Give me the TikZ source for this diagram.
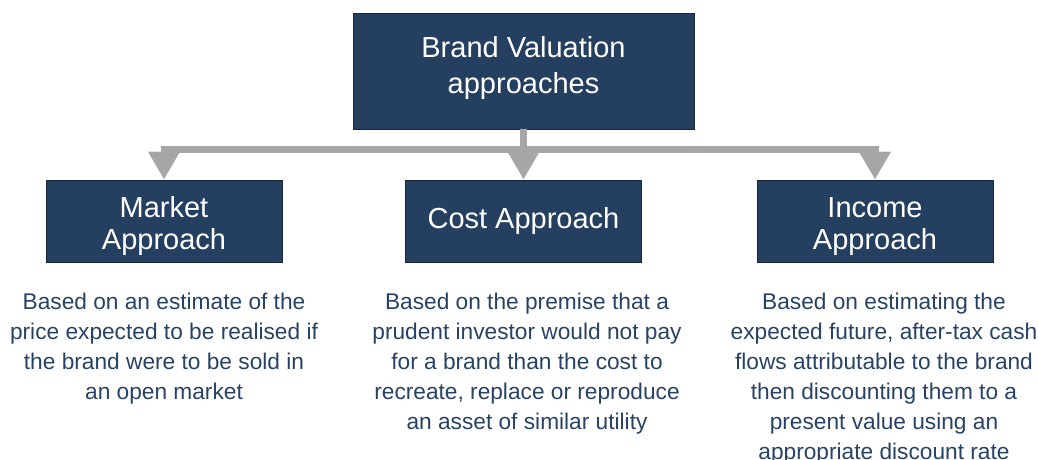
\documentclass[tikz,border=0pt]{standalone}
\usepackage{fontspec}
\setmainfont{Liberation Sans}
\usepackage{xcolor}
\usetikzlibrary{positioning, arrows.meta}
\definecolor{boxblue}{RGB}{37,63,96}
\definecolor{boxline}{RGB}{22,38,60}
\definecolor{descblue}{RGB}{40,66,100}
\definecolor{arrowgray}{RGB}{166,166,166}

\begin{document}
\begin{tikzpicture}[x=1pt, y=-1pt,
  approach/.style={draw=boxline, fill=boxblue, text=white, line width=0.8pt,
    minimum width=236pt, minimum height=82pt, align=center,
    font=\fontsize{29}{32}\selectfont},
  descr/.style={text=descblue, align=center, inner sep=0pt,
    font=\fontsize{22.7}{30}\selectfont},
  branch/.style={arrowgray, line width=7pt, -{Triangle[width=30pt,length=28pt]}}]
\useasboundingbox (0,0) rectangle (1038,459);

% top box
\node[approach, minimum width=341pt, minimum height=116pt,
  font=\fontsize{29}{36}\selectfont] (brand) at (523.5,71)
  {Brand Valuation\\approaches\rule[-12pt]{0pt}{0pt}};

% the three approaches
\node[approach] (market) at (164,221) {\rule{0pt}{31pt}Market\\Approach};
\node[approach] (cost) at (523.5,221) {Cost Approach};
\node[approach] (income) at (875,221) {\rule{0pt}{31pt}Income\\Approach};

% gray connectors
\draw[branch] (brand.south) -- ++(0,20) -| (market.north);
\draw[branch] (brand.south) -- ++(0,20) -| (income.north);
\draw[branch] (brand.south) -- (cost.north);

% descriptions
\node[descr, below=30pt of market.south] (marketdescr)
  {Based on an estimate of the\\price expected to be realised if\\the brand were to be sold in\\an open market};
\node[descr, below=30pt of cost.south, xshift=3.5pt] (costdescr)
  {Based on the premise that a\\prudent investor would not pay\\for a brand than the cost to\\recreate, replace or reproduce\\an asset of similar utility};
\node[descr, below=30pt of income.south, xshift=9pt] (incomedescr)
  {Based on estimating the\\expected future, after-tax cash\\flows attributable to the brand\\then discounting them to a\\present value using an\\appropriate discount rate};
\end{tikzpicture}
\end{document}
